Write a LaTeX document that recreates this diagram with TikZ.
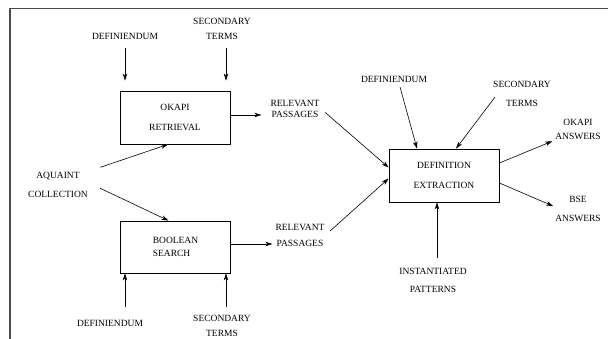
\documentclass[tikz,border=0pt]{standalone}
\usepackage{fontspec}
\setmainfont{Liberation Serif}
\usetikzlibrary{positioning,arrows.meta}
\tikzset{
>={Stealth[length=7pt,width=4.5pt,inset=2pt]},
  procbox/.style={
    rectangle,
    draw=black, line width=0.8pt,
    minimum width=110pt,
    minimum height=53pt,
    inner sep=2pt,
    align=center,
    font=\fontsize{9.5}{11}\selectfont},
  lbl/.style={align=center, inner sep=1pt, font=\fontsize{9.5}{11}\selectfont},
  flow/.style={draw, ->, line width=0.6pt},
  frameline/.style={draw=black!70, line width=1.6pt},
}

\begin{document}
\begin{tikzpicture}[x=1pt,y=-1pt]
    \useasboundingbox (0,0) rectangle (608,339);
    % frame (only top and left visible)
    \path[frameline] (10,339) -- (10,8.5) -- (608,8.5);

    % processing boxes
    \node[procbox] (okapi) at (175,117.5) {OKAPI\\[9pt]RETRIEVAL};
    \node[procbox, minimum height=52pt, align=left] (boolean) at (175.5,247) {BOOLEAN\\[2pt]SEARCH};
    \node[procbox] (defex) at (444,175.5) {DEFINITION\\[9pt]EXTRACTION};

    % inputs and outputs
    \node[lbl] (deftop) at (125,36) {DEFINIENDUM};
    \node[lbl] (sectop) at (222,28.5) {SECONDARY\\[4pt]TERMS};
    \node[lbl] (relup) at (295,108.5) {RELEVANT\\PASSAGES};
    \node[lbl] (aquaint) at (58,185) {AQUAINT\\[8pt]COLLECTION};
    \node[lbl] (defbot) at (110,323) {DEFINIENDUM};
    \node[lbl] (secbot) at (222,325.5) {SECONDARY\\[4pt]TERMS};
    \node[lbl] (reldown) at (300,235) {RELEVANT\\[5pt]PASSAGES};
    \node[lbl] (defright) at (394,79) {DEFINIENDUM};
    \node[lbl] (secright) at (522,93.5) {SECONDARY\\[8pt]TERMS};
    \node[lbl] (okans) at (578,129) {OKAPI\\[3pt]ANSWERS};
    \node[lbl] (bseans) at (578,208.5) {BSE\\[8pt]ANSWERS};
    \node[lbl] (inst) at (433,280) {INSTANTIATED\\[7pt]PATTERNS};

    % okapi branch
    \path[flow, shorten <=8pt, shorten >=10pt] (deftop.south) -- ([xshift=-50pt]okapi.north);
    \path[flow, shorten <=8pt, shorten >=10pt] ([xshift=4pt]sectop.south) -- ([xshift=51pt]okapi.north);
    \path[flow, shorten >=8pt] ([yshift=2.5pt]okapi.east) -- ([yshift=2.5pt]okapi.east -| relup.west);
    \path[flow, shorten <=12pt] (aquaint.north east) -- ([xshift=-7pt]okapi.south);

    % boolean branch
    \path[flow, shorten <=12pt] ([yshift=2pt]aquaint.east) -- ([xshift=-7pt]boolean.north);
    \path[flow, shorten <=12pt] ([xshift=15pt]defbot.north) -- ([xshift=-50.5pt]boolean.south);
    \path[flow, shorten <=7pt] ([xshift=4pt]secbot.north) -- ([xshift=50.5pt]boolean.south);
    \path[flow, shorten >=2pt] ([yshift=3pt]boolean.east) -- ([yshift=3pt]boolean.east -| reldown.west);

    % extraction
    \path[flow, shorten <=6pt] (relup.east) -- ([yshift=8pt]defex.west);
    \path[flow, shorten <=6pt] (reldown.east) -- ([yshift=-3pt]defex.west);
    \path[flow, shorten <=4pt] ([xshift=5pt]defright.south) -- ([xshift=-27pt]defex.north);
    \path[flow] ([xshift=3pt,yshift=-3.5pt]secright.west) -- ([xshift=12pt]defex.north);
    \path[flow, shorten <=9pt] ([xshift=4pt]inst.north) -- ([xshift=-7pt]defex.south);
    \path[flow, shorten >=2pt] ([yshift=12.5pt]defex.east) -- (okans.south west);
    \path[flow, shorten >=1pt] ([yshift=-7.5pt]defex.east) -- ([yshift=2pt]bseans.west);
\end{tikzpicture}
\end{document}
